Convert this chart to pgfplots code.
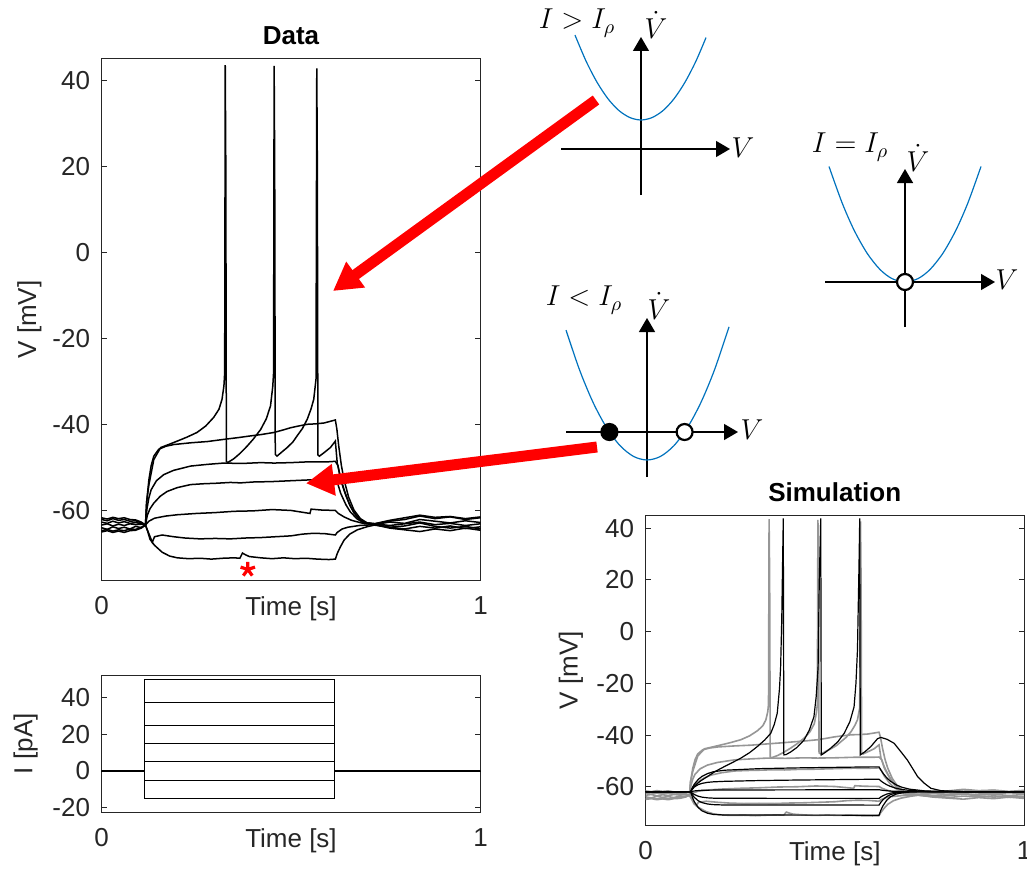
\documentclass[border=0pt]{standalone}
\usepackage{fontspec}
\setmainfont{Liberation Sans}
\usepackage{pgfplots}
\pgfplotsset{compat=1.18}
\usepackage{pgfplotstable}
\usetikzlibrary{arrows.meta}
\definecolor{mtext}{RGB}{38,38,38}
\definecolor{mblue}{RGB}{0,114,189}
\definecolor{mgray}{RGB}{150,150,150}

\pgfplotstableread{
t v
0 -63.9
0.015 -64.3
0.03 -63.7
0.045 -64.1
0.06 -63.8
0.075 -64.2
0.09 -63.6
0.105 -63.9
0.116 -63.3
0.122 -64.8
0.128 -66.6
0.14 -68.0
0.16 -69.6
0.18 -70.5
0.2 -70.9
0.23 -71.1
0.26 -71.0
0.29 -71.2
0.32 -71.0
0.35 -70.9
0.365 -71.0
0.372 -69.8
0.38 -70.2
0.39 -70.6
0.42 -70.9
0.45 -71.1
0.48 -70.9
0.51 -71.1
0.54 -71.0
0.57 -71.2
0.6 -71.3
0.617 -71.2
0.622 -69.9
0.63 -68.4
0.64 -66.8
0.655 -65.4
0.675 -64.4
0.7 -63.7
0.72 -63.3
0.76 -63.8
0.8 -64.2
0.84 -63.6
0.88 -64.0
0.92 -63.5
0.96 -64.1
1.0 -63.7
}\tA
\pgfplotstableread{
t v
0 -62.6
0.015 -62.9
0.03 -62.4
0.045 -62.8
0.06 -62.5
0.075 -62.9
0.09 -62.7
0.105 -63.0
0.116 -63.3
0.126 -65.5
0.134 -67.3
0.14 -66.0
0.16 -65.6
0.19 -66.0
0.22 -66.3
0.26 -66.5
0.3 -66.4
0.34 -66.5
0.38 -66.3
0.42 -66.2
0.46 -66.0
0.5 -65.8
0.53 -65.4
0.56 -65.2
0.59 -65.3
0.617 -65.6
0.622 -65.0
0.635 -64.2
0.65 -63.8
0.68 -63.4
0.72 -63.2
0.76 -62.6
0.8 -62.9
0.84 -62.0
0.88 -62.4
0.92 -62.8
0.96 -62.3
1.0 -62.7
}\tB
\pgfplotstableread{
t v
0 -64.6
0.015 -64.3
0.03 -64.7
0.045 -64.4
0.06 -64.6
0.075 -64.2
0.09 -64.3
0.105 -63.8
0.116 -63.3
0.125 -62.4
0.14 -61.7
0.17 -61.2
0.2 -60.9
0.25 -60.6
0.3 -60.4
0.35 -60.1
0.4 -60.0
0.45 -59.7
0.5 -59.9
0.55 -60.6
0.553 -59.6
0.58 -59.8
0.617 -59.9
0.625 -60.6
0.64 -61.4
0.66 -62.2
0.69 -62.9
0.72 -63.2
0.76 -64.0
0.8 -64.4
0.84 -64.8
0.88 -64.2
0.92 -64.6
0.96 -64.0
1.0 -64.5
}\tC
\pgfplotstableread{
t v
0 -62.0
0.015 -62.3
0.03 -61.8
0.045 -62.2
0.06 -62.0
0.075 -62.4
0.09 -62.3
0.105 -62.8
0.116 -63.3
0.121 -61.0
0.128 -59.5
0.138 -58.2
0.155 -56.6
0.173 -55.5
0.2 -54.6
0.235 -53.9
0.27 -53.7
0.3 -53.6
0.34 -53.4
0.367 -53.5
0.4 -53.3
0.45 -53.2
0.5 -53.0
0.551 -52.8
0.58 -52.9
0.617 -52.7
0.623 -53.6
0.631 -55.9
0.645 -58.6
0.657 -60.3
0.675 -61.9
0.692 -62.8
0.72 -63.0
0.76 -62.4
0.8 -62.0
0.84 -61.2
0.88 -61.8
0.92 -61.4
0.96 -62.0
1.0 -61.6
}\tD
\pgfplotstableread{
t v
0 -63.3
0.015 -63.0
0.03 -63.5
0.045 -63.1
0.06 -63.4
0.075 -63.0
0.09 -63.2
0.105 -63.1
0.116 -63.3
0.12 -59.5
0.125 -57.0
0.131 -55.1
0.145 -53.0
0.164 -51.6
0.19 -50.6
0.235 -49.6
0.28 -49.2
0.323 -48.9
0.37 -49.0
0.42 -48.8
0.455 -48.9
0.5 -48.8
0.55 -48.6
0.6 -48.6
0.617 -48.5
0.624 -49.5
0.631 -52.8
0.645 -56.5
0.657 -59.0
0.675 -61.4
0.692 -62.8
0.72 -63.0
0.76 -63.4
0.8 -63.0
0.84 -62.6
0.88 -63.2
0.92 -62.9
0.96 -63.4
1.0 -63.0
}\tE
\pgfplotstableread{
t v
0 -64.9
0.015 -64.6
0.03 -65.0
0.045 -64.7
0.06 -65.0
0.075 -64.6
0.09 -64.5
0.105 -64.0
0.116 -63.3
0.119 -58.0
0.125 -52.8
0.131 -49.5
0.138 -47.3
0.151 -45.7
0.17 -45.0
0.191 -44.6
0.235 -44.2
0.28 -43.9
0.323 -43.4
0.36 -43.0
0.393 -42.6
0.42 -42.3
0.455 -41.8
0.48 -41.2
0.499 -40.7
0.52 -40.3
0.543 -39.9
0.565 -39.8
0.587 -39.6
0.6 -39.3
0.617 -38.9
0.621 -41.0
0.626 -45.0
0.633 -49.5
0.64 -52.8
0.652 -56.8
0.666 -59.8
0.683 -61.8
0.701 -62.8
0.72 -63.0
0.76 -63.8
0.8 -63.5
0.84 -62.8
0.88 -63.6
0.92 -64.0
0.96 -63.6
1.0 -64.2
}\tF
\pgfplotstableread{
t v
0 -61.6
0.015 -61.9
0.03 -61.5
0.045 -61.8
0.06 -61.6
0.075 -62.0
0.09 -62.1
0.105 -62.6
0.116 -63.3
0.119 -58.0
0.125 -54.0
0.138 -48.1
0.156 -45.3
0.18 -44.5
0.2 -43.8
0.225 -42.9
0.252 -41.8
0.275 -40.3
0.296 -38.3
0.31 -36.4
0.318 -34.1
0.323 -31.0
0.325 -28.0
0.3265 43.5
0.328 20.0
0.3295 -48.5
0.333 -48.8
0.34 -48.4
0.349 -47.9
0.365 -46.7
0.384 -45.0
0.4 -43.4
0.42 -41.1
0.435 -38.6
0.446 -35.6
0.452 -31.0
0.454 -28.0
0.4555 43.3
0.457 20.0
0.4585 -46.9
0.463 -47.3
0.475 -46.4
0.49 -45.3
0.505 -44.0
0.516 -42.6
0.53 -40.9
0.543 -38.7
0.553 -36.3
0.56 -34.1
0.566 -29.4
0.568 42.7
0.5695 20.0
0.571 -47.0
0.575 -47.3
0.587 -46.5
0.604 -45.3
0.617 -43.8
0.622 -48.9
0.63 -52.0
0.64 -55.1
0.653 -58.2
0.666 -60.5
0.683 -62.1
0.701 -62.8
0.72 -63.0
0.76 -62.2
0.8 -61.6
0.84 -61.0
0.88 -61.5
0.92 -61.3
0.96 -61.8
1.0 -61.4
}\tG

\pgfplotstableread{
t v
0 -61.9
0.119 -61.9
0.124 -64.1
0.129 -65.8
0.139 -68.0
0.149 -69.3
0.164 -70.25
0.179 -70.7
0.209 -70.94
0.617 -71.0
0.622 -69.0
0.627 -67.45
0.637 -65.27
0.647 -63.9
0.662 -62.86
0.677 -62.36
0.697 -62.06
0.737 -61.92
1 -61.9
}\sA
\pgfplotstableread{
t v
0 -61.9
0.119 -61.9
0.124 -63.16
0.129 -64.1
0.139 -65.39
0.149 -66.12
0.164 -66.67
0.179 -66.91
0.209 -67.07
0.617 -67.1
0.622 -65.96
0.627 -65.07
0.637 -63.82
0.647 -63.04
0.662 -62.45
0.677 -62.16
0.697 -61.99
0.737 -61.9
1 -61.9
}\sB
\pgfplotstableread{
t v
0 -61.9
0.119 -61.9
0.124 -62.53
0.129 -63.01
0.139 -63.65
0.149 -64.01
0.164 -64.29
0.179 -64.41
0.209 -64.48
0.617 -64.5
0.622 -63.93
0.627 -63.49
0.637 -62.86
0.647 -62.47
0.662 -62.17
0.677 -62.03
0.697 -61.95
0.737 -61.9
1 -61.9
}\sC
\pgfplotstableread{
t v
0 -61.9
0.119 -61.9
0.13 -61.6
0.15 -61.35
0.2 -61.25
0.617 -61.15
0.63 -61.45
0.65 -61.7
0.68 -61.85
1 -61.9
}\sD
\pgfplotstableread{
t v
0 -61.9
0.119 -61.9
0.124 -60.9
0.129 -60.1
0.139 -59.2
0.149 -58.7
0.164 -58.3
0.179 -58.1
0.209 -57.9
0.3 -57.6
0.4 -57.4
0.5 -57.25
0.6 -57.1
0.617 -57.1
0.622 -57.74
0.627 -58.29
0.637 -59.19
0.647 -59.86
0.662 -60.58
0.677 -61.04
0.697 -61.41
0.737 -61.75
0.777 -61.85
0.85 -61.9
1 -61.9
}\sE
\pgfplotstableread{
t v
0 -61.9
0.119 -61.9
0.124 -60.3
0.129 -59.0
0.139 -57.2
0.149 -56.0
0.164 -54.9
0.179 -54.2
0.209 -53.6
0.3 -53.0
0.4 -52.7
0.5 -52.5
0.6 -52.3
0.617 -52.3
0.622 -53.58
0.627 -54.69
0.637 -56.48
0.647 -57.83
0.662 -59.25
0.677 -60.17
0.697 -60.92
0.737 -61.59
0.777 -61.8
0.85 -61.9
1 -61.9
}\sF
\pgfplotstableread{
t v
0 -61.9
0.119 -61.9
0.13 -59.6
0.145 -57.8
0.163 -56.1
0.185 -54.0
0.207 -52.3
0.23 -50.6
0.251 -49.0
0.275 -46.8
0.295 -44.5
0.315 -41.9
0.331 -39.3
0.34 -36.0
0.348 -31.6
0.354 -22.0
0.357 -13.6
0.36 5.0
0.362 25.1
0.364 43.8
0.3655 -47.7
0.372 -47.5
0.384 -46.5
0.4 -44.8
0.419 -41.9
0.433 -38.0
0.445 -32.9
0.451 -25.0
0.456 -13.6
0.459 18.7
0.463 43.8
0.4645 -47.7
0.475 -46.7
0.489 -45.1
0.508 -42.6
0.525 -39.3
0.54 -34.8
0.551 -29.1
0.556 -20.0
0.56 -7.1
0.564 25.1
0.566 43.8
0.5675 -47.7
0.58 -46.4
0.595 -44.5
0.613 -41.4
0.622 -40.9
0.639 -41.7
0.657 -43.2
0.675 -46.5
0.692 -49.7
0.706 -53.0
0.719 -56.1
0.737 -58.7
0.754 -60.6
0.78 -61.5
0.824 -61.9
1 -61.9
}\sG

\tikzset{
  ax/.style={black, line width=0.7pt, -{Triangle[length=7pt,width=8pt]}},
  para/.style={mblue, line width=0.6pt, smooth},
  lab/.style={font=\fontsize{14.2}{16}\selectfont},
}
\pgfplotsset{
  mstyle/.style={
    scale only axis, anchor=south west,
    axis line style={draw=mtext, line width=0.5pt},
    every tick/.style={draw=mtext, line width=0.5pt},
    major tick length=2.6pt,
    tick align=inside,
    tick pos=both, xticklabel pos=lower, yticklabel pos=left,
    /pgf/number format/assume math mode=true,
    tick label style={font=\fontsize{13}{15}\selectfont, text=mtext},
    xticklabel style={yshift=-4.7pt},
    yticklabel style={xshift=-2.2pt},
    label style={font=\fontsize{13}{15}\selectfont, text=mtext},
    xlabel style={at={(axis description cs:0.5,0)}, anchor=north, yshift=-4.7pt},
    title style={font=\bfseries\fontsize{13}{15}\selectfont, text=black, at={(axis description cs:0.5,1)}, anchor=south, yshift=-2.5pt},
    xmin=0, xmax=1, xtick={0,1},
  },
  phase/.style={
    scale only axis, anchor=south west, hide axis, clip=false,
  },
}

\begin{document}
\begin{tikzpicture}
\useasboundingbox (0,0) rectangle (513.5pt,437.5pt);

% ---------------- Data ----------------
\begin{axis}[mstyle, at={(50.75pt,147.5pt)}, width=189.5pt, height=260.5pt,
  ymin=-76.05, ymax=44.9, ytick={-60,-40,-20,0,20,40},
  title={Data}, xlabel={Time [s]}, ylabel={V [mV]},
  ylabel style={at={(axis description cs:-0.19,0.5)}, anchor=center}]
\addplot[black, line width=0.75pt] table {\tA};
\addplot[black, line width=0.75pt] table {\tB};
\addplot[black, line width=0.75pt] table {\tC};
\addplot[black, line width=0.75pt] table {\tD};
\addplot[black, line width=0.75pt] table {\tE};
\addplot[black, line width=0.75pt] table {\tF};
\addplot[black, line width=0.75pt] table {\tG};
\addplot[only marks, red, mark=star, mark size=3.8pt, mark options={line width=1.6pt}] coordinates {(0.386,-73.6)};
\end{axis}

% ---------------- Current ----------------
\begin{axis}[mstyle, at={(50.75pt,31.35pt)}, width=189.5pt, height=68.65pt,
  ymin=-22.5, ymax=52.3, ytick={-20,0,20,40},
  xlabel={Time [s]}, ylabel={I [pA]},
  ylabel style={at={(axis description cs:-0.2,0.5)}, anchor=center}]
\addplot[black, line width=0.5pt] coordinates {(0,0) (0.1145,0) (0.1145,-15) (0.615,-15) (0.615,0) (1,0)};
\addplot[black, line width=0.5pt] coordinates {(0,0) (0.1145,0) (0.1145,-5) (0.615,-5) (0.615,0) (1,0)};
\addplot[black, line width=0.5pt] coordinates {(0,0) (0.1145,0) (0.1145,5) (0.615,5) (0.615,0) (1,0)};
\addplot[black, line width=0.5pt] coordinates {(0,0) (0.1145,0) (0.1145,15) (0.615,15) (0.615,0) (1,0)};
\addplot[black, line width=0.5pt] coordinates {(0,0) (0.1145,0) (0.1145,25) (0.615,25) (0.615,0) (1,0)};
\addplot[black, line width=0.5pt] coordinates {(0,0) (0.1145,0) (0.1145,37.5) (0.615,37.5) (0.615,0) (1,0)};
\addplot[black, line width=0.5pt] coordinates {(0,0) (0.1145,0) (0.1145,50) (0.615,50) (0.615,0) (1,0)};
\addplot[black, line width=1pt] coordinates {(0,0) (0.1145,0)};
\addplot[black, line width=1pt] coordinates {(0.615,0) (1,0)};
\end{axis}

% ---------------- Simulation ----------------
\begin{axis}[mstyle, at={(322.75pt,25pt)}, width=189.25pt, height=154.75pt,
  ymin=-74.8, ymax=44.95, ytick={-60,-40,-20,0,20,40},
  title={Simulation}, xlabel={Time [s]}, ylabel={V [mV]},
  ylabel style={at={(axis description cs:-0.197,0.5)}, anchor=center}]
\addplot[mgray, line width=0.8pt] table {\tA};
\addplot[mgray, line width=0.8pt] table {\tB};
\addplot[mgray, line width=0.8pt] table {\tC};
\addplot[mgray, line width=0.8pt] table {\tD};
\addplot[mgray, line width=0.8pt] table {\tE};
\addplot[mgray, line width=0.8pt] table {\tF};
\addplot[mgray, line width=0.8pt] table {\tG};
\addplot[black, line width=0.6pt] table {\sA};
\addplot[black, line width=0.6pt] table {\sB};
\addplot[black, line width=0.6pt] table {\sC};
\addplot[black, line width=0.6pt] table {\sD};
\addplot[black, line width=0.6pt] table {\sE};
\addplot[black, line width=0.6pt] table {\sF};
\addplot[black, line width=0.6pt] table {\sG};
\end{axis}

% ---------------- Phase: I > I_rho ----------------
\begin{axis}[phase, at={(280.5pt,340pt)}, width=84.5pt, height=79pt,
  xmin=-80, xmax=89, ymin=-46, ymax=112]
\addplot[ax] coordinates {(-80,0) (89,0)};
\addplot[ax] coordinates {(0,-46) (0,112)};
\addplot[para] coordinates {(-66,113.9) (-55,88.0) (-44,66.8) (-33,50.2) (-22,38.4) (-11,31.4) (0,29) (11,31.4) (22,38.4) (33,50.2) (44,66.8) (55,88.0) (65,111.4)};
\node[lab] at (axis cs:-64,126) {$I > I_\rho$};
\node[lab] at (axis cs:15,124) {$\dot V$};
\node[lab] at (axis cs:102,1) {$V$};
\end{axis}

% ---------------- Phase: I = I_rho ----------------
\begin{axis}[phase, at={(412.5pt,274pt)}, width=85pt, height=79pt,
  xmin=-80, xmax=90, ymin=-45, ymax=113]
\addplot[ax] coordinates {(-80,0) (90,0)};
\addplot[ax] coordinates {(0,-45) (0,113)};
\addplot[para] coordinates {(-76,115.5) (-63,79.4) (-51,52.0) (-38,28.9) (-25,12.5) (-13,3.4) (0,0) (13,3.4) (25,12.5) (38,28.9) (51,52.0) (63,79.4) (76,115.5)};
\addplot[only marks, mark=*, mark size=4pt, mark options={draw=black, fill=white, line width=1.1pt}] coordinates {(0,0)};
\node[lab] at (axis cs:-55,135) {$I = I_\rho$};
\node[lab] at (axis cs:13,124) {$\dot V$};
\node[lab] at (axis cs:102,2) {$V$};
\end{axis}

% ---------------- Phase: I < I_rho ----------------
\begin{axis}[phase, at={(283pt,199pt)}, width=86pt, height=79.5pt,
  xmin=-81, xmax=91, ymin=-45, ymax=114]
\addplot[ax] coordinates {(-81,0) (91,0)};
\addplot[ax] coordinates {(0,-45) (0,114)};
\addplot[para] coordinates {(-81,101.9) (-67.5,62.2) (-54,29.7) (-40.5,4.5) (-27,-13.6) (-13.5,-24.4) (0,-28) (13.5,-24.4) (27,-13.6) (40.5,4.5) (54,29.7) (67.5,62.2) (82,105.1)};
\addplot[only marks, mark=*, mark size=4pt, mark options={draw=black, fill=black, line width=1.1pt}] coordinates {(-37.6,0)};
\addplot[only marks, mark=*, mark size=4pt, mark options={draw=black, fill=white, line width=1.1pt}] coordinates {(37.6,0)};
\node[lab] at (axis cs:-63,132) {$I < I_\rho$};
\node[lab] at (axis cs:12,126) {$\dot V$};
\node[lab] at (axis cs:105,2) {$V$};
\end{axis}

% ---------------- Red arrows ----------------
\draw[red, line width=5.5pt, -{Triangle[length=14pt,width=15pt]}] (298pt,387.5pt) -- (166.5pt,292pt);
\draw[red, line width=5.5pt, -{Triangle[length=14pt,width=15pt]}] (298.5pt,214pt) -- (153pt,195.85pt);
\end{tikzpicture}
\end{document}
